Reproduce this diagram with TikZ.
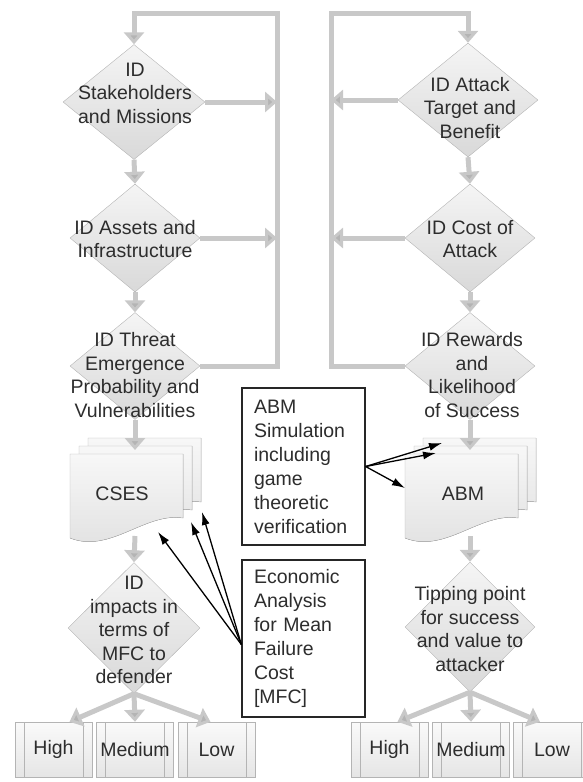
\documentclass[tikz,border=0pt]{standalone}
\usepackage{fontspec}
\setmainfont{Liberation Sans}
\usetikzlibrary{arrows.meta, calc, shapes.geometric}
\definecolor{flowgray}{RGB}{200,200,200}
\definecolor{boxedge}{RGB}{180,180,180}
\definecolor{inkgray}{RGB}{45,45,45}

\begin{document}
\begin{tikzpicture}[x=1pt, y=-1pt,
		every node/.style={font=\fontsize{19.5}{23.5}\selectfont, text=inkgray},
		choice/.style={diamond, draw=boxedge, top color=gray!8, bottom color=gray!30, inner sep=0pt},
		flow/.style={line width=5pt, draw=flowgray, line join=miter, -{Triangle[width=20pt,length=12pt,fill=flowgray!90!black]}},
		pointer/.style={line width=1.3pt, black, -{Latex[length=13pt,width=8pt]}},
		docface/.style={draw=boxedge, top color=gray!6, bottom color=gray!24},
		outcome/.style={draw=boxedge, top color=gray!4, bottom color=gray!20, minimum width=77pt, minimum height=55pt, inner sep=0pt,
			path picture={
				\draw[boxedge] ([xshift=9pt]path picture bounding box.north west) -- ([xshift=9pt]path picture bounding box.south west);
				\draw[boxedge] ([xshift=-9pt]path picture bounding box.north east) -- ([xshift=-9pt]path picture bounding box.south east);}},
		note/.style={draw=black!85, line width=1.3pt, fill=white, align=left, text width=99pt, inner xsep=12pt, minimum height=157pt, font=\fontsize{19.5}{24}\selectfont}]
		\useasboundingbox (0,0) rectangle (582,782);

		% defender side
		\node[choice, minimum width=142pt, minimum height=115pt] (d1) at (134,102) {};
		\node[choice, minimum width=130pt, minimum height=108pt] (d2) at (135,238) {};
		\node[choice, minimum width=130pt, minimum height=107pt] (d3) at (135,366) {};
		\node[choice, minimum width=132pt, minimum height=131pt] (d4) at (134,628) {};
		% attacker side
		\node[choice, minimum width=140pt, minimum height=114pt] (e1) at (468,100) {};
		\node[choice, minimum width=130pt, minimum height=108pt] (e2) at (470,238) {};
		\node[choice, minimum width=130pt, minimum height=107pt] (e3) at (470,366) {};
		\node[choice, minimum width=130pt, minimum height=130pt] (e4) at (470,627) {};

		% stacked documents
		\foreach \ox in {70,405} {
			\foreach \dx/\dy in {18/-16, 9/-8, 0/0}
				\filldraw[docface, shift={(\ox+\dx,454+\dy)}] (0,0) -- (113,0) -- (113,64) .. controls (75,58) and (40,100) .. (0,84) -- cycle;
		}
		\node (cses) at (122,494) {CSES};
		\node (abm) at (463,494) {ABM};
		\coordinate (csesin) at (135,450);
		\coordinate (csesout) at (135,536);
		\coordinate (abmin) at (470,450);
		\coordinate (abmout) at (470,536);

		% outcomes
		\node[outcome] (hiL) at (53.5,749.5) {High};
		\node[outcome] (meL) at (135,749.5) {Medium};
		\node[outcome] (loL) at (216.5,749.5) {Low};
		\node[outcome] (hiR) at (389.5,749.5) {High};
		\node[outcome] (meR) at (471,749.5) {Medium};
		\node[outcome] (loR) at (552,749.5) {Low};

		% feedback loops
		\coordinate (lr) at (277,13);
		\coordinate (rl) at (331,13);
		\draw[flow] (d3.east) -| (lr) -| (d1.north);
		\draw[flow] (e3.west) -| (rl) -| (e1.north);
		\draw[flow] (d1.east) -- (d1.east -| lr);
		\draw[flow] (d2.east) -- (d2.east -| lr);
		\draw[flow] (e1.west) -- (e1.west -| rl);
		\draw[flow] (e2.west) -- (e2.west -| rl);

		% main flow
		\draw[flow] (d1.south) -- (d2.north);
		\draw[flow] (d2.south) -- (d3.north);
		\draw[flow] (d3.south) -- (csesin);
		\draw[flow] (csesout) -- (d4.north);
		\draw[flow] (e1.south) -- (e2.north);
		\draw[flow] (e2.south) -- (e3.north);
		\draw[flow] (e3.south) -- (abmin);
		\draw[flow] (abmout) -- (e4.north);
		\draw[flow] (d4.south) -- ([xshift=16pt]hiL.north);
		\draw[flow] (d4.south) -- (meL.north);
		\draw[flow] (d4.south) -- ([xshift=-6pt]loL.north);
		\draw[flow] (e4.south) -- ([xshift=8pt]hiR.north);
		\draw[flow] (e4.south) -- (meR.north);
		\draw[flow] (e4.south) -- ([xshift=-12pt]loR.north);

		% diamond texts
		\node[align=center] (t1) at (135,93) {ID\\Stakeholders\\and Missions};
		\node[align=center] (t2) at (135,239) {ID Assets and\\Infrastructure};
		\node[align=center] (t3) at (135,375) {ID Threat\\Emergence\\Probability and\\Vulnerabilities};
		\node[align=center] (t4) at (134,630) {ID\\impacts in\\terms of\\MFC to\\defender};
		\node[align=center] (u1) at (470,108) {ID Attack\\Target and\\Benefit};
		\node[align=center] (u2) at (470,239) {ID Cost of\\Attack};
		\node[align=center] (u3) at (472,375) {ID Rewards\\and\\Likelihood\\of Success};
		\node[align=center] (u4) at (470,629) {Tipping point\\for success\\and value to\\attacker};

		% annotations
		\node[note] (abmnote) at (303.5,466.5) {ABM\\Simulation\\including\\game\\theoretic\\verification};
		\node[note] (econ) at (303.5,638.5) {Economic\\Analysis\\for Mean\\Failure\\Cost\\{[MFC]}};
		\foreach \p in {(442,443),(436,453),(405,488)}
			\draw[pointer] (abmnote.east) -- \p;
		\foreach \p in {(202,512),(191,522),(158,532)}
			\draw[pointer] ([yshift=-6pt]econ.west) -- \p;
	\end{tikzpicture}
\end{document}
